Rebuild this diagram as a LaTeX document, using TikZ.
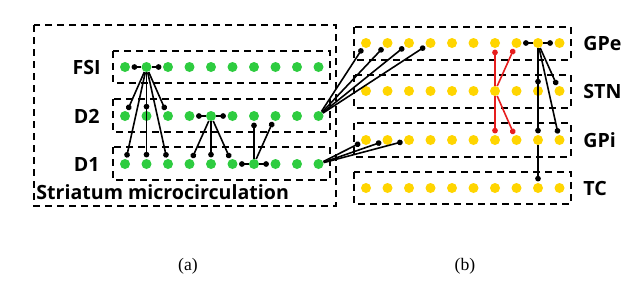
\documentclass[tikz,border=0pt]{standalone}
\usepackage{fontspec}
\setmainfont{Liberation Serif}
\newfontfamily\lblfont{Open Sans}
\usetikzlibrary{arrows.meta}
\definecolor{cellgreen}{RGB}{46,204,64}
\definecolor{cellgold}{RGB}{255,213,0}
\definecolor{synred}{RGB}{230,30,30}
\tikzset{
  greendot/.style={circle,fill=cellgreen,minimum size=5pt,inner sep=0pt},
  golddot/.style={circle,fill=cellgold,minimum size=5pt,inner sep=0pt},
  grp/.style={dash pattern=on 3.5pt off 2.5pt,line width=0.75pt},
  syn/.style={-{Circle[length=2.8pt]},line width=0.8pt,shorten >=0.6pt},
  lbl/.style={font=\lblfont\bfseries\fontsize{9.8}{12}\selectfont,inner sep=0pt}
}
\begin{document}
\begin{tikzpicture}[x=0.5pt,y=-0.5pt]
\useasboundingbox (0,0) rectangle (643,280);
% populations
\foreach \i in {1,...,10} {
  \node[greendot] (fsi\i) at ({125+21.5*(\i-1)},67) {};
  \node[greendot] (dtwo\i) at ({125+21.5*(\i-1)},116) {};
  \node[greendot] (done\i) at ({125+21.5*(\i-1)},164) {};
  \node[golddot] (gpe\i) at ({366+21.5*(\i-1)},43) {};
  \node[golddot] (stn\i) at ({366+21.5*(\i-1)},91) {};
  \node[golddot] (gpi\i) at ({366+21.5*(\i-1)},140) {};
  \node[golddot] (tc\i) at ({366+21.5*(\i-1)},188) {};
}
% group boxes
\draw[grp] (34,25) rectangle (336,206);
\draw[grp] (113,51) rectangle (330,83);
\draw[grp] (113,99) rectangle (330,132);
\draw[grp] (113,147) rectangle (330,180);
\draw[grp] (354,27) rectangle (571,60);
\draw[grp] (354,75) rectangle (571,108);
\draw[grp] (354,123) rectangle (571,157);
\draw[grp] (354,172) rectangle (571,204);
% labels
\node[lbl,anchor=east] (fsilbl) at (101,67) {FSI};
\node[lbl,anchor=east] (dtwolbl) at (100,116) {D2};
\node[lbl,anchor=east] (donelbl) at (100,164) {D1};
\node[lbl,anchor=base west] (strlbl) at (36,199) {Striatum microcirculation};
\node[lbl,anchor=west] (gpelbl) at (583,43) {GPe};
\node[lbl,anchor=west] (stnlbl) at (583,91) {STN};
\node[lbl,anchor=west] (gpilbl) at (583,140) {GPi};
\node[lbl,anchor=west] (tclbl) at (583,188) {TC};
\node[font=\fontsize{8.8}{10}\selectfont] (capa) at (188,266) {(a)};
\node[font=\fontsize{8.8}{10}\selectfont] (capb) at (465,266) {(b)};
% striatum connections
\foreach \t in {1,3} \draw[syn] (fsi2) -- (fsi\t);
\foreach \t in {1,2,3} {\draw[syn] (fsi2) -- (dtwo\t); \draw[syn] (fsi2) -- (done\t);}
\foreach \t in {4,6} \draw[syn] (dtwo5) -- (dtwo\t);
\foreach \t in {4,5,6} \draw[syn] (dtwo5) -- (done\t);
\foreach \t in {6,8} \draw[syn] (done7) -- (done\t);
\foreach \t in {7,8} \draw[syn] (done7) -- (dtwo\t);
% projections to basal ganglia
\foreach \t in {1,...,4} \draw[syn] (dtwo10) -- (gpe\t);
\foreach \t in {1,2,3} \draw[syn] (done10) -- (gpi\t);
\foreach \t in {8,10} \draw[syn] (gpe9) -- (gpe\t);
\foreach \t in {stn9,stn10,gpi9,gpi10} \draw[syn] (gpe9) -- (\t);
\draw[syn] (gpi9) -- (tc9);
\foreach \t in {gpe7,gpe8,gpi7,gpi8} \draw[syn,synred] (stn7) -- (\t);
\end{tikzpicture}
\end{document}
